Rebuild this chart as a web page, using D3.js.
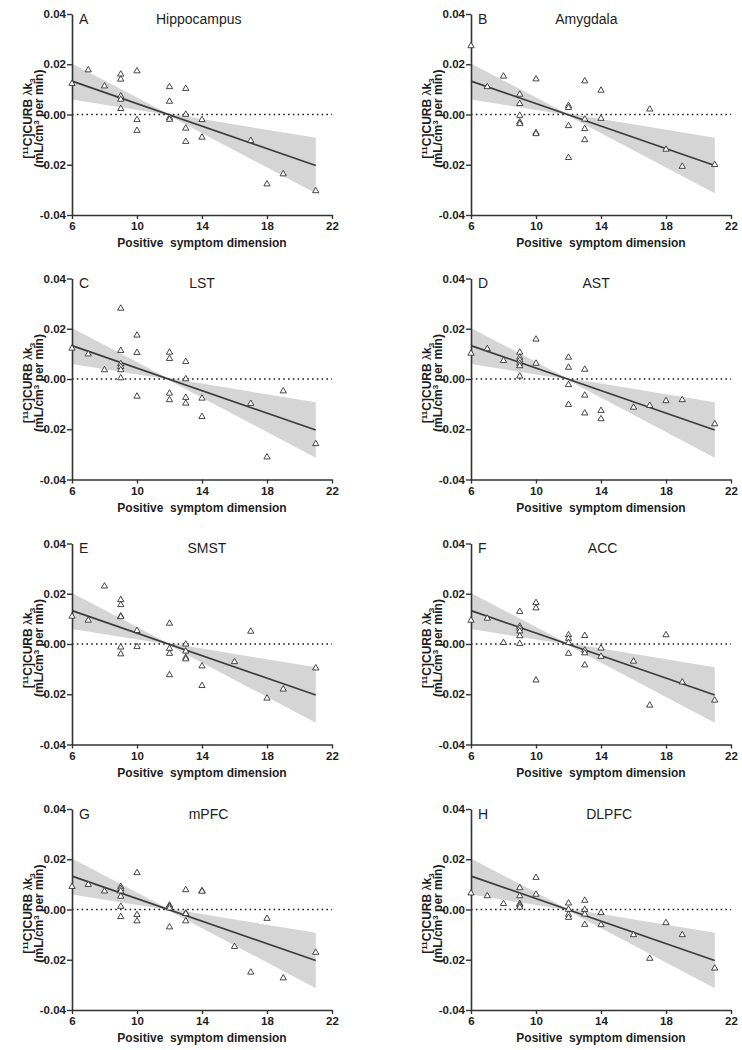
<!DOCTYPE html>
<html><head><meta charset="utf-8">
<script src="https://cdn.jsdelivr.net/npm/d3@7"></script>
<style>body{margin:0;background:#fff;} svg{display:block;font-family:"Liberation Sans",Arial,sans-serif;}</style>
</head><body><svg id="c" width="742" height="1050"></svg>
<script>
// ---------- data ----------
const panelLetters = ["A","B","C","D","E","F","G","H"];
const regionNames = ["Hippocampus","Amygdala","LST","AST","SMST","ACC","mPFC","DLPFC"];
const xTicks = [6,10,14,18,22];
const yTicks = [0.04,0.02,0,-0.02,-0.04];
const yTickLabels = ["0.04","0.02","0.00","-0.02","-0.04"];
const xTitle = "Positive  symptom dimension";
// regression line and confidence band (identical in all panels)
const fitX = [6,21];
const fitY = [0.0133,-0.0203];
const bandX = [6,11.85,21];
const bandUpper = [0.0203,0.0005,-0.0093];
const bandLower = [0.0060,-0.0001,-0.0313];

const hippocampus = [[6,0.0123],[7,0.0177],[8,0.0113],[9,0.016],[9,0.014],[9,0.0073],[9,0.006],[9,0.0023],[10,0.0173],[10,-0.0021],[10,-0.0064],[12,0.011],[12,0.0052],[12,-0.0013],[12,-0.002],[13,0.0103],[13,0.0],[13,-0.0055],[13,-0.0108],[14,-0.0021],[14,-0.0091],[17,-0.0104],[18,-0.0277],[19,-0.0237],[21,-0.0304]];
const amygdala = [[6,0.0273],[7,0.011],[8,0.0152],[9,0.008],[9,0.0043],[9,-0.0004],[9,-0.003],[9,-0.0037],[10,0.0141],[10,-0.0073],[10,-0.0077],[12,0.0035],[12,0.0027],[12,-0.0045],[12,-0.0172],[13,0.0133],[13,-0.0019],[13,-0.0057],[13,-0.0101],[14,0.0096],[14,-0.0016],[17,0.0021],[18,-0.0139],[19,-0.0207],[21,-0.02]];
const lst = [[6,0.0122],[7,0.0099],[8,0.0036],[9,0.0281],[9,0.0113],[9,0.006],[9,0.0049],[9,0.0036],[9,0.0004],[10,0.0174],[10,0.0105],[10,-0.0069],[12,0.0106],[12,0.0081],[12,-0.0057],[12,-0.0083],[13,0.0069],[13,0.0],[13,-0.0074],[13,-0.0097],[14,-0.0077],[14,-0.015],[17,-0.0098],[18,-0.0311],[19,-0.0048],[21,-0.0258]];
const ast = [[6,0.0102],[7,0.012],[8,0.0073],[9,0.0106],[9,0.0086],[9,0.0075],[9,0.0062],[9,0.0052],[9,0.0011],[10,0.0158],[10,0.0062],[12,0.0086],[12,0.0046],[12,-0.0023],[12,-0.0102],[13,0.0038],[13,-0.0065],[13,-0.0136],[14,-0.0126],[14,-0.0159],[16,-0.0113],[17,-0.0106],[18,-0.0087],[19,-0.0083],[21,-0.0179]];
const smst = [[6,0.011],[7,0.0094],[8,0.023],[9,0.0176],[9,0.0156],[9,0.0111],[9,0.0108],[9,-0.0013],[9,-0.004],[10,0.0053],[10,-0.0011],[12,0.0082],[12,-0.0018],[12,-0.0038],[12,-0.0123],[13,-0.0001],[13,-0.0029],[13,-0.0054],[13,-0.006],[14,-0.0088],[14,-0.0166],[16,-0.0071],[17,0.005],[18,-0.0216],[19,-0.018],[21,-0.0096]];
const acc = [[6,0.0094],[7,0.0102],[8,0.0005],[9,0.0129],[9,0.007],[9,0.0062],[9,0.0051],[9,0.0032],[9,0.0001],[10,0.0164],[10,0.0143],[10,-0.0144],[12,0.0036],[12,0.0022],[12,0.0005],[12,-0.0038],[13,0.0033],[13,-0.0025],[13,-0.0036],[13,-0.0084],[14,-0.0017],[14,-0.005],[16,-0.0069],[17,-0.0244],[18,0.0036],[19,-0.0152],[21,-0.0224]];
const mpfc = [[6,0.0091],[7,0.0099],[8,0.0073],[9,0.0091],[9,0.0083],[9,0.0073],[9,0.0052],[9,0.0012],[9,-0.0029],[10,0.0146],[10,-0.0021],[10,-0.0046],[12,0.0017],[12,0.0012],[12,0.0005],[12,-0.007],[13,0.0078],[13,-0.0015],[13,-0.0017],[13,-0.0046],[14,0.0074],[14,0.0072],[16,-0.0148],[17,-0.025],[18,-0.0036],[19,-0.0273],[21,-0.0171]];
const dlpfc = [[6,0.0065],[7,0.0054],[8,0.0023],[9,0.0086],[9,0.0054],[9,0.0023],[9,0.0017],[9,0.0009],[10,0.0127],[10,0.006],[12,0.0025],[12,0.0],[12,-0.002],[12,-0.0032],[13,0.0036],[13,-0.0001],[13,-0.0019],[13,-0.006],[14,-0.0013],[14,-0.0061],[16,-0.0101],[17,-0.0195],[18,-0.0053],[19,-0.0101],[21,-0.0234]];
const panelData = [hippocampus,amygdala,lst,ast,smst,acc,mpfc,dlpfc];

// ---------- layout ----------
const colLeft = [72,471];
const plotW = 260;
const rowTop = [14,278.5,543.5,809];
const plotH = 201;
const titleAt = [13.8,13.1,14.0,13.7,14.3,14.1,14.4,14.5]; // title centre, in x units
const ink = "#1e1e1e";

const svg = d3.select("#c");

panelData.forEach((pts,i)=>{
  const left = colLeft[i%2], top = rowTop[Math.floor(i/2)];
  const x = d3.scaleLinear().domain([6,22]).range([left,left+plotW]);
  const y = d3.scaleLinear().domain([-0.04,0.04]).range([top+plotH,top]);
  const g = svg.append("g");

  // band
  const band = bandX.map((d,k)=>({x:d,u:bandUpper[k],l:bandLower[k]}));
  g.append("path").datum(band)
    .attr("d",d3.area().x(d=>x(d.x)).y0(d=>y(d.l)).y1(d=>y(d.u)))
    .attr("fill","#d5d5d5");

  // zero dotted line
  g.append("line").attr("x1",x(6)).attr("x2",x(22)).attr("y1",y(0)).attr("y2",y(0))
    .attr("stroke",ink).attr("stroke-width",1.4).attr("stroke-dasharray","1.6,3.2");

  // regression line
  g.append("path").datum(fitX.map((d,k)=>[d,fitY[k]]))
    .attr("d",d3.line().x(d=>x(d[0])).y(d=>y(d[1])))
    .attr("stroke","#3c3c3c").attr("stroke-width",1.7).attr("fill","none");

  // axes
  const ya = g.append("g").attr("transform",`translate(${left},0)`)
    .call(d3.axisLeft(y).tickValues(yTicks).tickFormat((d,k)=>yTickLabels[k]).tickSize(5).tickSizeOuter(0).tickPadding(1));
  const xa = g.append("g").attr("transform",`translate(0,${top+plotH})`)
    .call(d3.axisBottom(x).tickValues(xTicks).tickFormat(d3.format("d")).tickSize(4).tickSizeOuter(0).tickPadding(3));
  [ya,xa].forEach(a=>{
    a.selectAll(".domain").attr("stroke","#333").attr("stroke-width",1.6);
    a.selectAll(".tick line").attr("stroke","#333").attr("stroke-width",1.4);
    a.selectAll(".tick text").attr("fill",ink).attr("font-size",11.5).attr("font-weight","bold")
      .attr("font-family",'"Liberation Sans",Arial,sans-serif');
  });

  // points
  g.append("g").selectAll("path").data(pts).join("path")
    .attr("transform",d=>`translate(${x(d[0])},${y(d[1])})`)
    .attr("d",d3.symbol(d3.symbolTriangle,17)())
    .attr("fill","#fff").attr("stroke","#333").attr("stroke-width",0.9);

  // panel letter & title
  g.append("text").attr("x",left+7).attr("y",top+9.5).text(panelLetters[i])
    .attr("font-size",14).attr("fill",ink);
  g.append("text").attr("x",x(titleAt[i])).attr("y",top+9.5).attr("text-anchor","middle")
    .text(regionNames[i]).attr("font-size",14).attr("fill",ink);

  // x title
  g.append("text").attr("x",x(14)).attr("y",top+plotH+32).attr("text-anchor","middle")
    .attr("font-size",12).attr("font-weight","bold").attr("fill",ink)
    .style("white-space","pre").text(xTitle);

  // y title (two lines, rotated)
  const yc = top+plotH/2+4;
  const t1 = g.append("text").attr("transform",`translate(${left-40},${yc}) rotate(-90)`)
    .attr("text-anchor","middle").attr("font-size",12).attr("font-weight","bold").attr("fill",ink);
  t1.append("tspan").text("[");
  t1.append("tspan").attr("font-size",8).attr("dy",-4).text("11");
  t1.append("tspan").attr("dy",4).text("C]CURB ");
  t1.append("tspan").attr("font-weight","normal").text("\u03BB");
  t1.append("tspan").text("k");
  t1.append("tspan").attr("font-size",8).attr("dy",2.5).text("3");
  const t2 = g.append("text").attr("transform",`translate(${left-29.5},${yc}) rotate(-90)`)
    .attr("text-anchor","middle").attr("font-size",12).attr("font-weight","bold").attr("fill",ink);
  t2.append("tspan").text("(mL/cm");
  t2.append("tspan").attr("font-size",8).attr("dy",-4).text("3");
  t2.append("tspan").attr("dy",4).text(" per min)");
});
</script></body></html>
